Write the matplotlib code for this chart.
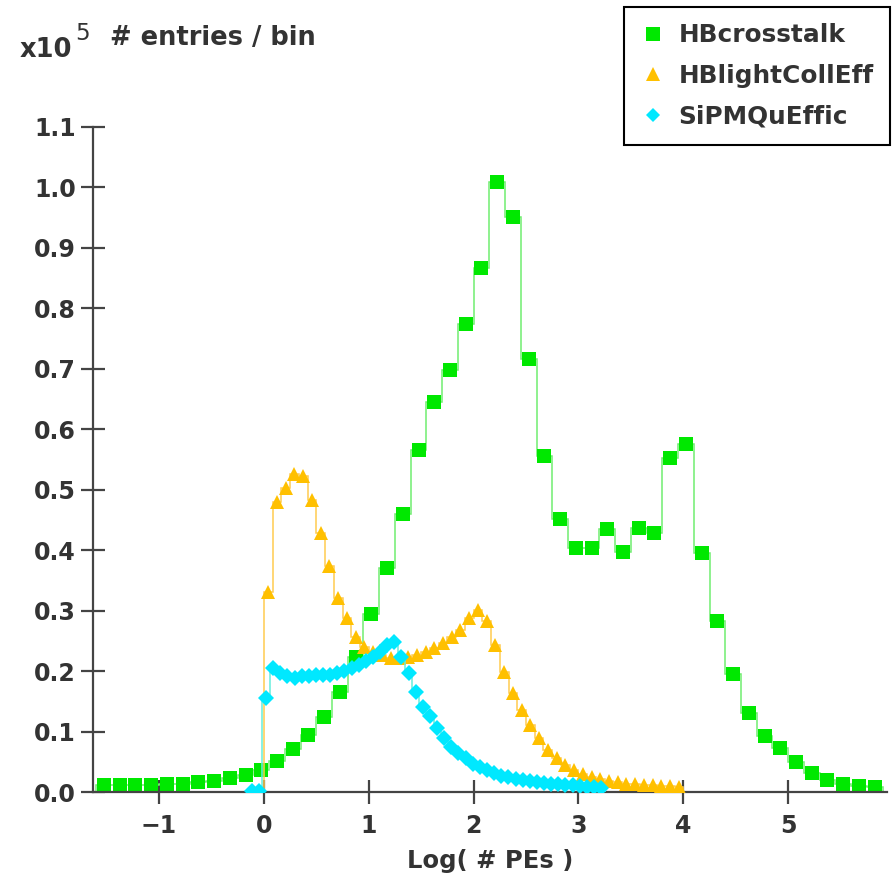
import numpy as np
import matplotlib
matplotlib.use('Agg')
import matplotlib.pyplot as plt
from matplotlib.lines import Line2D

plt.rcParams['font.family'] = ['DejaVu Sans']
plt.rcParams['font.weight'] = 'bold'

# ---- data (values in units of 1e5 entries / bin) ----
series_names = ['HBcrosstalk', 'HBlightCollEff', 'SiPMQuEffic']

crosstalk_edges = np.linspace(-1.6, 5.9, 51)
crosstalk_vals = [0.011, 0.011, 0.011, 0.011, 0.013, 0.014, 0.016, 0.019, 0.023, 0.028,
                  0.036, 0.051, 0.071, 0.094, 0.124, 0.166, 0.224, 0.294, 0.371, 0.460,
                  0.565, 0.644, 0.698, 0.774, 0.867, 1.009, 0.950, 0.716, 0.556, 0.452,
                  0.404, 0.404, 0.435, 0.397, 0.436, 0.429, 0.553, 0.576, 0.395, 0.283,
                  0.195, 0.131, 0.093, 0.073, 0.050, 0.032, 0.020, 0.013, 0.010, 0.009]

lightcoll_edges = np.linspace(0.0, 4.0, 49)
lightcoll_vals = [0.331, 0.479, 0.503, 0.526, 0.523, 0.482, 0.428, 0.373, 0.321, 0.288,
                  0.257, 0.240, 0.232, 0.226, 0.222, 0.221, 0.223, 0.226, 0.232, 0.238,
                  0.246, 0.257, 0.268, 0.287, 0.301, 0.282, 0.243, 0.199, 0.163, 0.135,
                  0.111, 0.089, 0.070, 0.056, 0.044, 0.036, 0.030, 0.025, 0.021, 0.018,
                  0.016, 0.014, 0.013, 0.012, 0.011, 0.010, 0.010, 0.009]

sipm_edges = np.linspace(-0.15, 3.25, 51)
sipm_vals = [0.001, 0.002, 0.155, 0.205, 0.196, 0.191, 0.188, 0.191, 0.192, 0.194,
             0.194, 0.194, 0.196, 0.200, 0.205, 0.210, 0.217, 0.224, 0.232, 0.243,
             0.248, 0.224, 0.196, 0.166, 0.141, 0.125, 0.105, 0.089, 0.075, 0.064,
             0.056, 0.047, 0.042, 0.036, 0.031, 0.027, 0.024, 0.022, 0.020, 0.018,
             0.016, 0.015, 0.014, 0.013, 0.012, 0.011, 0.010, 0.009, 0.008, 0.007]

x_ticks = [-1, 0, 1, 2, 3, 4, 5]
y_ticks = [0.0, 0.1, 0.2, 0.3, 0.4, 0.5, 0.6, 0.7, 0.8, 0.9, 1.0, 1.1]

# ---- style ----
marker_colors = ['#00e800', '#ffc000', '#00e8ff']
line_colors = ['#70ee70', '#ffcc50', '#66eedd']
markers = ['s', '^', 'D']
msizes = [10, 10, 7.8]
txt = '#333333'
axc = '#444444'

W, H = 895, 882
fig = plt.figure(figsize=(W / 100, H / 100), dpi=100)
ax = fig.add_axes([93.3 / W, 1 - 792 / H, (886.7 - 93.3) / W, (792 - 126.7) / H])

for i, (edges, vals) in enumerate([(crosstalk_edges, crosstalk_vals),
                                    (lightcoll_edges, lightcoll_vals),
                                    (sipm_edges, sipm_vals)]):
    vals = np.asarray(vals)
    centers = 0.5 * (edges[:-1] + edges[1:])
    ax.stairs(vals, edges, color=line_colors[i], lw=1.1, baseline=0, zorder=2 + i)
    ax.plot(centers, vals, ls='none', marker=markers[i], ms=msizes[i],
            color=marker_colors[i], mec=marker_colors[i], mew=0, zorder=2.5 + i)

ax.set_xlim(-1.627, 5.94)
ax.set_ylim(0, 1.1)
ax.set_xticks(x_ticks)
ax.set_xticklabels([f'\u2212{abs(t)}' if t < 0 else str(t) for t in x_ticks])
ax.set_yticks(y_ticks)
ax.set_yticklabels([f'{t:.1f}' for t in y_ticks])

for s in ['top', 'right']:
    ax.spines[s].set_visible(False)
for s in ['left', 'bottom']:
    ax.spines[s].set_linewidth(1.6)
    ax.spines[s].set_color(axc)

ax.tick_params(direction='inout', length=17, width=1.6, color=axc,
               labelsize=17, labelcolor=txt)
ax.tick_params(axis='y', pad=4)
ax.tick_params(axis='x', pad=7)
for lab in ax.get_xticklabels() + ax.get_yticklabels():
    lab.set_fontweight('bold')

ax.set_xlabel('Log( # PEs )', fontsize=17.5, fontweight='bold', color=txt, labelpad=8)

fig.text(20 / W, 1 - 57 / H, 'x10', fontsize=18.5, fontweight='bold', color=txt, va='baseline')
fig.text(75 / W, 1 - 40 / H, '5', fontsize=16.5, fontweight='normal', color=txt, va='baseline')
fig.text(110 / W, 1 - 45 / H, '# entries / bin', fontsize=18.5, fontweight='bold',
         color=txt, va='baseline')

handles = [Line2D([], [], ls='none', marker=markers[i], ms=msizes[i] * 0.95,
                  color=marker_colors[i], mew=0) for i in range(3)]
leg = fig.legend(handles, series_names, loc='upper right',
                 bbox_to_anchor=(890 / W, 1 - 7 / H), bbox_transform=fig.transFigure,
                 prop=dict(size=17.8, weight='bold'), frameon=True, fancybox=False,
                 edgecolor='black', framealpha=1, handlelength=1.0, handletextpad=0.55,
                 labelspacing=0.68, borderpad=0.66, borderaxespad=0)
leg.get_frame().set_linewidth(1.5)
for t in leg.get_texts():
    t.set_color(txt)

fig.savefig('out.png', dpi=100)
